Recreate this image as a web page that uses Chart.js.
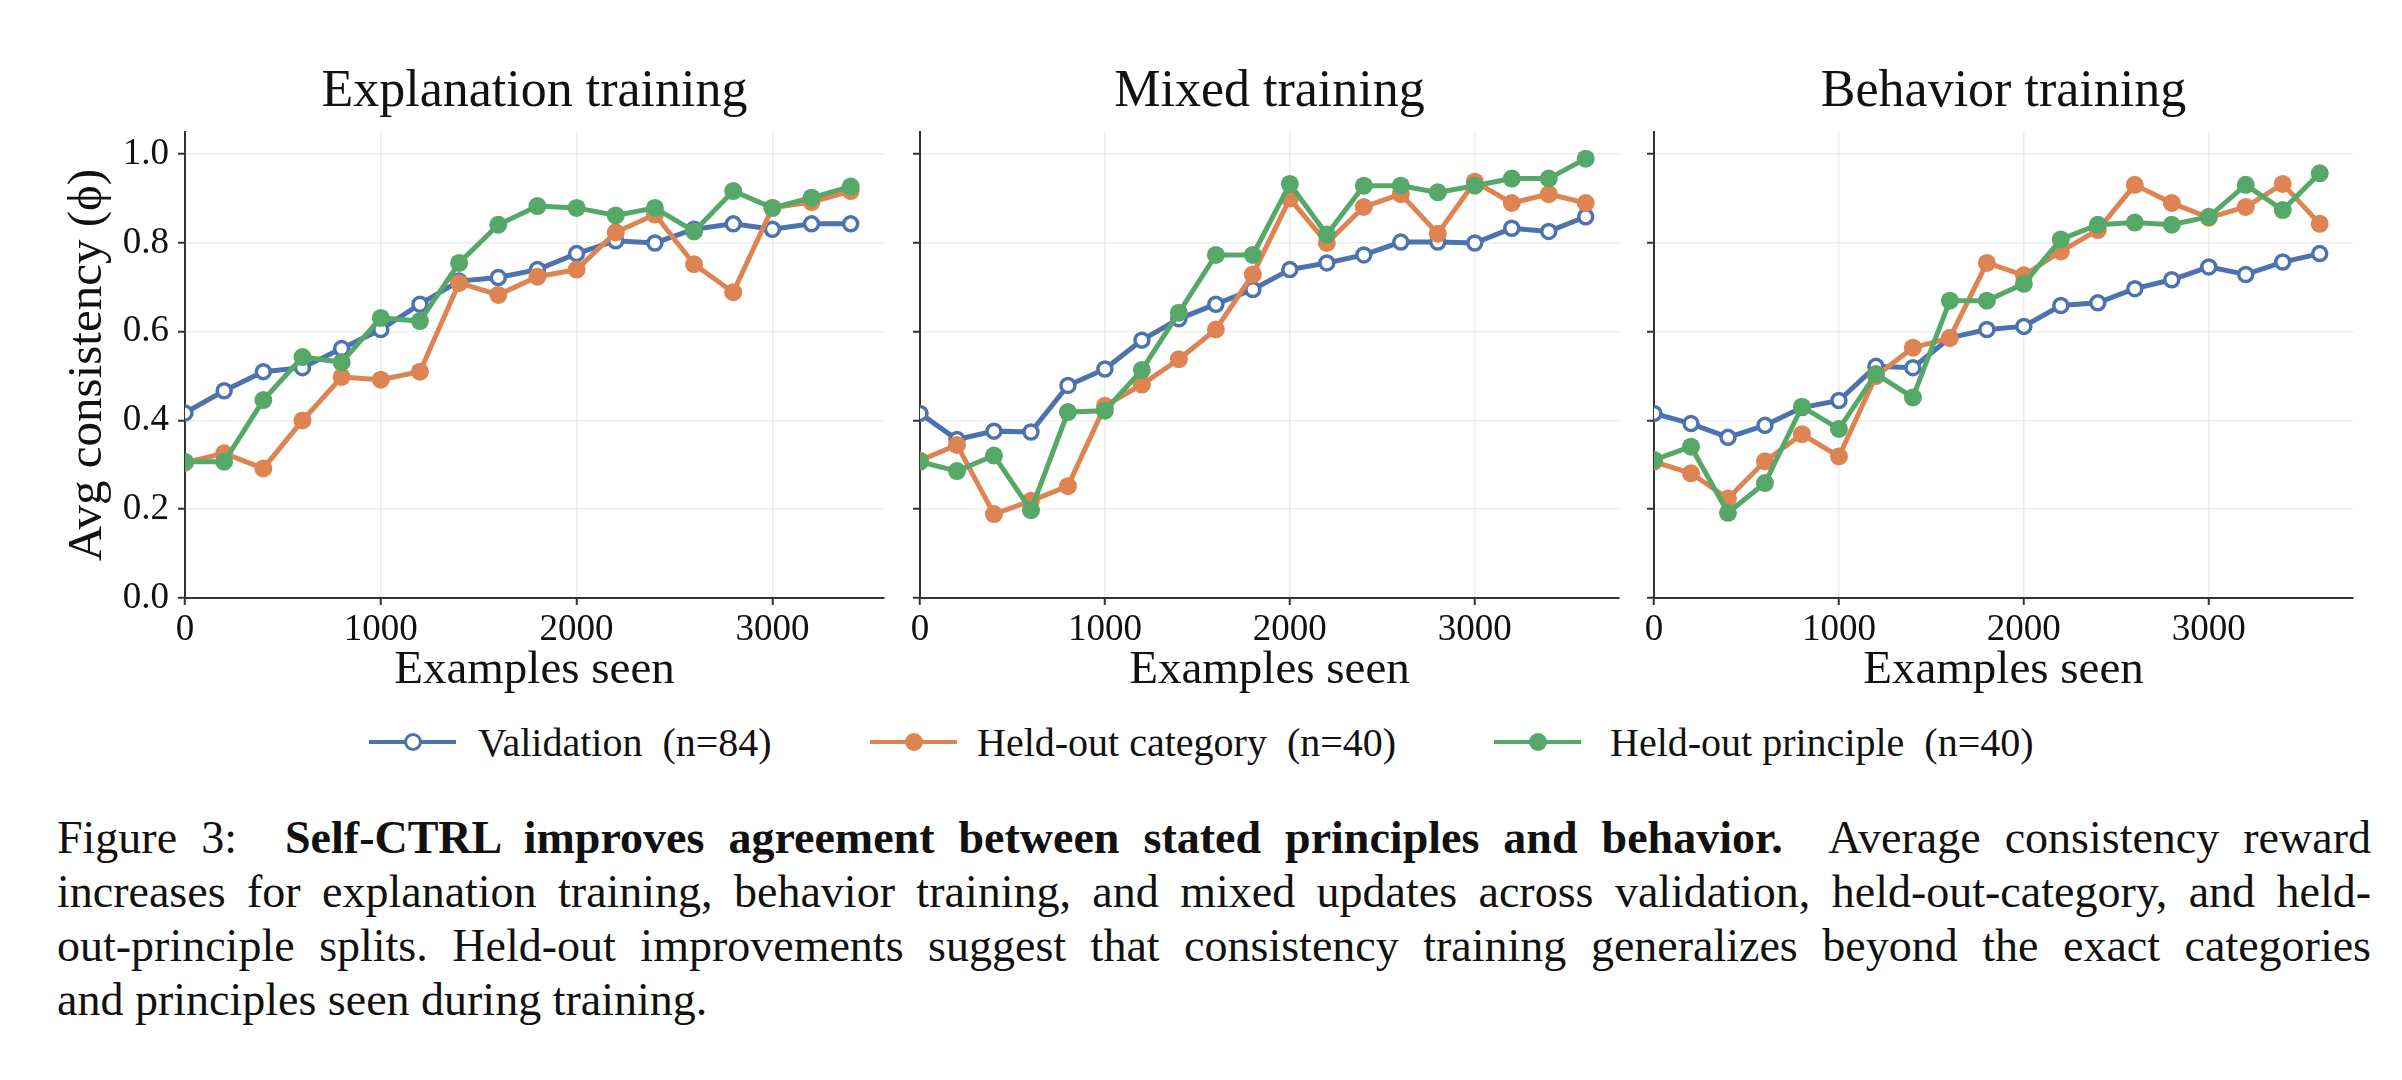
<!DOCTYPE html>
<html>
<head>
<meta charset="utf-8">
<title>Self-CTRL consistency</title>
<script src="https://cdn.jsdelivr.net/npm/chart.js@4.4.1/dist/chart.umd.min.js"></script>
<style>
    html, body { margin: 0; padding: 0; background: #fff; }
    body {
        width: 2402px; height: 1080px; position: relative; overflow: hidden;
        font-family: "Liberation Serif", "Times New Roman", serif; color: #111;
    }
    canvas { position: absolute; top: 0; }
    .leg-line { position: absolute; top: 740px; width: 87px; height: 4px; }
    .leg-dot { position: absolute; top: 733px; width: 18px; height: 18px; border-radius: 50%; box-sizing: border-box; }
    .leg-text { position: absolute; top: 723px; font-size: 40px; line-height: 40px; white-space: pre; }
    #caption { position: absolute; left: 57px; top: 811px; width: 2314px; font-size: 46px; line-height: 54px; }
    #caption div { white-space: nowrap; text-align: justify; text-align-last: justify; }
    #caption div.last { text-align-last: left; }
</style>
</head>
<body>

<canvas id="explanationChart" width="1069" height="700" style="left:0px"></canvas>
<canvas id="mixedChart" width="739" height="700" style="left:900px"></canvas>
<canvas id="behaviorChart" width="739" height="700" style="left:1634px"></canvas>

<div id="legend"></div>

<div id="caption">
    <div><span>Figure 3:&nbsp; <b>Self-CTRL improves agreement between stated principles and behavior.</b>&nbsp; Average consistency reward</span></div>
    <div><span>increases for explanation training, behavior training, and mixed updates across validation, held-out-category, and held-</span></div>
    <div><span>out-principle splits. Held-out improvements suggest that consistency training generalizes beyond the exact categories</span></div>
    <div class="last"><span>and principles seen during training.</span></div>
</div>

<script>
// examples seen (x values)
const stepsExplanation = [0, 200, 400, 600, 800, 1000, 1200, 1400, 1600, 1800, 2000, 2200, 2400, 2600, 2800, 3000, 3200, 3400];
const stepsLong = [0, 200, 400, 600, 800, 1000, 1200, 1400, 1600, 1800, 2000, 2200, 2400, 2600, 2800, 3000, 3200, 3400, 3600];

// Explanation training
const explValidation = [0.417, 0.467, 0.51, 0.519, 0.562, 0.605, 0.662, 0.714, 0.722, 0.74, 0.776, 0.805, 0.80, 0.831, 0.843, 0.831, 0.843, 0.843];
const explCategory   = [0.305, 0.326, 0.292, 0.40, 0.498, 0.492, 0.51, 0.71, 0.683, 0.724, 0.74, 0.824, 0.864, 0.752, 0.689, 0.879, 0.892, 0.917];
const explPrinciple  = [0.307, 0.307, 0.446, 0.543, 0.531, 0.631, 0.624, 0.755, 0.841, 0.883, 0.879, 0.862, 0.879, 0.826, 0.917, 0.879, 0.902, 0.927];

// Mixed training
const mixValidation = [0.416, 0.357, 0.376, 0.374, 0.479, 0.516, 0.581, 0.629, 0.662, 0.695, 0.74, 0.755, 0.773, 0.802, 0.802, 0.80, 0.833, 0.826, 0.859];
const mixCategory   = [0.31, 0.345, 0.189, 0.219, 0.252, 0.433, 0.481, 0.538, 0.605, 0.729, 0.90, 0.80, 0.881, 0.91, 0.821, 0.938, 0.89, 0.91, 0.89];
const mixPrinciple  = [0.307, 0.286, 0.321, 0.198, 0.419, 0.422, 0.514, 0.643, 0.773, 0.773, 0.933, 0.819, 0.929, 0.929, 0.914, 0.929, 0.945, 0.945, 0.99];

// Behavior training
const behValidation = [0.416, 0.393, 0.362, 0.389, 0.429, 0.445, 0.522, 0.519, 0.586, 0.605, 0.612, 0.659, 0.665, 0.697, 0.717, 0.746, 0.729, 0.757, 0.776];
const behCategory   = [0.307, 0.281, 0.224, 0.308, 0.369, 0.319, 0.50, 0.564, 0.586, 0.755, 0.727, 0.781, 0.829, 0.931, 0.89, 0.857, 0.881, 0.933, 0.843];
const behPrinciple  = [0.311, 0.341, 0.192, 0.259, 0.431, 0.381, 0.505, 0.452, 0.67, 0.67, 0.708, 0.808, 0.841, 0.846, 0.841, 0.859, 0.931, 0.874, 0.957];

const xTicks = [0, 1000, 2000, 3000];
const yTicks = [0, 0.2, 0.4, 0.6, 0.8, 1.0];
const seriesNames = ['Validation  (n=84)', 'Held-out category  (n=40)', 'Held-out principle  (n=40)'];
const seriesColors = ['#4C72B0', '#DD8452', '#55A868'];

const FONT = '"Liberation Serif", "Times New Roman", serif';

function makeDataset(idx, xs, ys) {
    const color = seriesColors[idx];
    const open = idx === 0;
    return {
        label: seriesNames[idx],
        data: xs.map((x, i) => ({ x: x, y: ys[i] })),
        borderColor: color,
        backgroundColor: color,
        borderWidth: 5,
        tension: 0,
        pointRadius: open ? 7 : 9,
        pointBorderWidth: open ? 3.5 : 0,
        pointBorderColor: color,
        pointBackgroundColor: open ? '#ffffff' : color,
        order: 2 - idx   // green drawn on top, like matplotlib
    };
}

function makePanel(id, title, xs, validation, category, principle, sideWidth, showYLabels) {
    const xMax = xs[xs.length - 1] * 1.05;
    const ctx = document.getElementById(id).getContext('2d');
    return new Chart(ctx, {
        type: 'line',
        data: {
            datasets: [
                makeDataset(0, xs, validation),
                makeDataset(1, xs, category),
                makeDataset(2, xs, principle)
            ]
        },
        options: {
            responsive: false,
            animation: false,
            layout: { padding: 0 },
            plugins: {
                legend: { display: false },
                tooltip: { enabled: false },
                title: {
                    display: true,
                    text: title,
                    color: '#111',
                    font: { family: FONT, size: 52, weight: 'normal' },
                    padding: { top: 61, bottom: 8.6 }
                }
            },
            scales: {
                x: {
                    type: 'linear',
                    min: 0,
                    max: xMax,
                    afterBuildTicks: s => { s.ticks = xTicks.map(v => ({ value: v })); },
                    ticks: {
                        autoSkip: false,
                        maxRotation: 0,
                        padding: 3,
                        color: '#111',
                        font: { family: FONT, size: 37 },
                        callback: v => String(v)
                    },
                    grid: { color: 'rgba(0,0,0,0.07)', lineWidth: 1.5, tickLength: 7, tickColor: '#333', tickWidth: 2 },
                    border: { color: '#333', width: 2 },
                    title: {
                        display: true,
                        text: 'Examples seen',
                        color: '#111',
                        font: { family: FONT, size: 47 },
                        padding: { top: 0, bottom: 1 }
                    },
                    afterFit: s => { s.height = 102; }
                },
                y: {
                    position: 'left',
                    min: 0,
                    max: 1.05,
                    afterBuildTicks: s => { s.ticks = yTicks.map(v => ({ value: v })); },
                    ticks: {
                        display: showYLabels,
                        padding: 9,
                        color: '#111',
                        font: { family: FONT, size: 37 },
                        callback: v => v.toFixed(1)
                    },
                    grid: { color: 'rgba(0,0,0,0.07)', lineWidth: 1.5, tickLength: 7, tickColor: '#333', tickWidth: 2 },
                    border: { color: '#333', width: 2 },
                    title: {
                        display: showYLabels,
                        text: 'Avg consistency (\u03D5)',
                        color: '#111',
                        font: { family: FONT, size: 49 },
                        padding: { top: 59, bottom: 0 }
                    },
                    afterFit: s => { s.width = sideWidth; }
                },
                // empty right axis so the title centres over the plot area
                yRight: {
                    position: 'right',
                    min: 0,
                    max: 1.05,
                    grid: { display: false },
                    border: { display: false },
                    ticks: { display: false },
                    afterFit: s => { s.width = sideWidth; }
                }
            }
        }
    });
}

makePanel('explanationChart', 'Explanation training', stepsExplanation, explValidation, explCategory, explPrinciple, 185, true);
makePanel('mixedChart', 'Mixed training', stepsLong, mixValidation, mixCategory, mixPrinciple, 20, false);
makePanel('behaviorChart', 'Behavior training', stepsLong, behValidation, behCategory, behPrinciple, 20, false);

// legend below the panels
const legendLine = [369, 870, 1494];
const legendText = [478, 977, 1610];
const legend = document.getElementById('legend');
seriesNames.forEach((name, i) => {
    const line = document.createElement('div');
    line.className = 'leg-line';
    line.style.left = legendLine[i] + 'px';
    line.style.background = seriesColors[i];
    legend.appendChild(line);

    const dot = document.createElement('div');
    dot.className = 'leg-dot';
    dot.style.left = (legendLine[i] + 34.5) + 'px';
    if (i === 0) {
        dot.style.background = '#fff';
        dot.style.border = '3px solid ' + seriesColors[i];
    } else {
        dot.style.background = seriesColors[i];
    }
    legend.appendChild(dot);

    const txt = document.createElement('div');
    txt.className = 'leg-text';
    txt.style.left = legendText[i] + 'px';
    txt.textContent = name;
    legend.appendChild(txt);
});

// the caption font is narrower than the original one: widen the letters a bit
const capLines = document.querySelectorAll('#caption div');
const capWidth = 2314;
let spacings = [];
capLines.forEach((div, i) => {
    if (div.classList.contains('last')) return;
    const span = div.querySelector('span');
    const natural = span.getBoundingClientRect().width;
    const chars = span.textContent.length;
    const ls = (capWidth - natural) / chars;
    spacings.push(ls);
});
const avgSpacing = spacings.reduce((a, b) => a + b, 0) / spacings.length;
capLines.forEach(div => {
    div.style.letterSpacing = avgSpacing.toFixed(2) + 'px';
});
</script>
</body>
</html>
